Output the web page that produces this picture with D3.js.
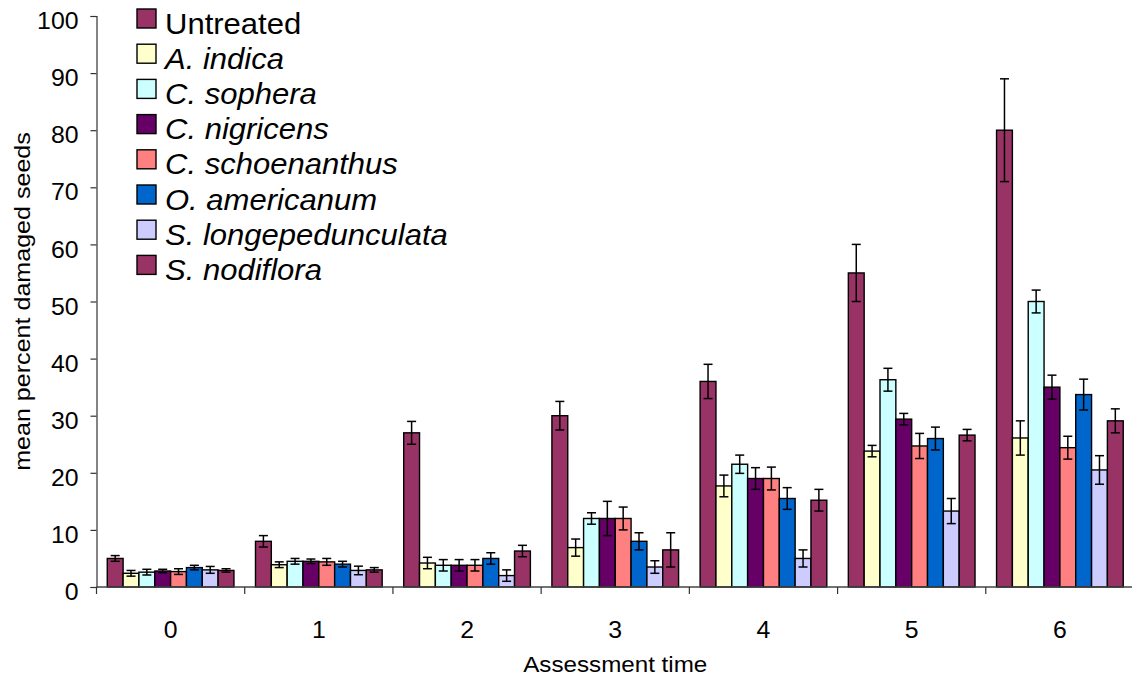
<!DOCTYPE html>
<html>
<head>
<meta charset="utf-8">
<script src="https://cdn.jsdelivr.net/npm/d3@7"></script>
<style>
  html, body { margin: 0; padding: 0; background: #fff; }
  svg { display: block; font-family: "Liberation Sans", Arial, sans-serif; }
</style>
</head>
<body>
<svg id="chart" width="1132" height="677"></svg>
<script>
// Assessment times (x categories)
const times = ["0", "1", "2", "3", "4", "5", "6"];

// Treatments, in legend / bar order
const treatments = ["Untreated", "A. indica", "C. sophera", "C. nigricens",
  "C. schoenanthus", "O. americanum", "S. longepedunculata", "S. nodiflora"];
const italicNames = [false, true, true, true, true, true, true, true];

// Mean percent damaged seeds per treatment, one value per assessment time
const untreated      = [5.0, 8.0, 27.0, 30.0, 36.0, 55.0, 80.0];
const aIndica        = [2.4, 3.9, 4.2, 6.9, 17.7, 23.8, 26.1];
const cSophera       = [2.6, 4.5, 3.8, 12.0, 21.5, 36.3, 50.0];
const cNigricens     = [2.8, 4.5, 3.8, 12.0, 19.0, 29.4, 35.0];
const cSchoenanthus  = [2.7, 4.4, 3.8, 12.0, 19.0, 24.7, 24.4];
const oAmericanum    = [3.4, 4.0, 5.0, 8.0, 15.5, 26.0, 33.7];
const sLongeped      = [3.0, 2.9, 2.0, 3.5, 5.0, 13.3, 20.5];
const sNodiflora     = [2.9, 3.0, 6.3, 6.5, 15.2, 26.6, 29.1];

// Error bar half-widths (standard errors)
const untreatedErr     = [0.5, 1.0, 2.0, 2.5, 3.0, 5.0, 9.0];
const aIndicaErr       = [0.5, 0.5, 1.0, 1.5, 1.9, 1.0, 3.0];
const cSopheraErr      = [0.5, 0.5, 1.0, 1.0, 1.6, 2.0, 2.0];
const cNigricensErr    = [0.3, 0.4, 1.0, 3.0, 1.9, 1.0, 2.1];
const cSchoenanthusErr = [0.5, 0.6, 1.0, 2.0, 2.0, 2.2, 2.0];
const oAmericanumErr   = [0.4, 0.5, 1.0, 1.5, 1.9, 2.0, 2.7];
const sLongepedErr     = [0.6, 0.75, 1.0, 1.1, 1.5, 2.2, 2.5];
const sNodifloraErr    = [0.3, 0.4, 1.0, 3.0, 1.9, 1.0, 2.1];

const yTicks = [0, 10, 20, 30, 40, 50, 60, 70, 80, 90, 100];

const seriesValues = [untreated, aIndica, cSophera, cNigricens, cSchoenanthus, oAmericanum, sLongeped, sNodiflora];
const seriesErrors = [untreatedErr, aIndicaErr, cSopheraErr, cNigricensErr, cSchoenanthusErr, oAmericanumErr, sLongepedErr, sNodifloraErr];
const colors = ["#993366", "#FFFFCC", "#CCFFFF", "#660066", "#FF8080", "#0066CC", "#CCCCFF", "#993366"];

const svg = d3.select("#chart");
const plotLeft = 96.5, plotRight = 1134, plotTop = 16, plotBottom = 587;
const sx = 1.08; // horizontal glyph stretch of the axis labels

const x0 = d3.scaleBand().domain(times).range([plotLeft, plotRight]).padding(0);
const x1 = d3.scaleBand().domain(d3.range(treatments.length))
  .range([0, x0.bandwidth()]).paddingInner(0).paddingOuter(0.68);
const y = d3.scaleLinear().domain([0, 100]).range([plotBottom, plotTop]);

// bars
const rows = [];
seriesValues.forEach((vals, s) => vals.forEach((v, i) => rows.push({ s, t: times[i], v, e: seriesErrors[s][i] })));

const plot = svg.append("g");
plot.selectAll("rect.bar").data(rows).join("rect")
  .attr("class", "bar")
  .attr("x", d => x0(d.t) + x1(d.s))
  .attr("y", d => y(d.v))
  .attr("width", x1.bandwidth())
  .attr("height", d => y(0) - y(d.v))
  .attr("fill", d => colors[d.s])
  .attr("stroke", "#000")
  .attr("stroke-width", 1.4);

// error bars
const eb = plot.selectAll("g.err").data(rows).join("g").attr("class", "err")
  .attr("stroke", "#000").attr("stroke-width", 1.5);
const cx = d => x0(d.t) + x1(d.s) + x1.bandwidth() / 2;
eb.append("line").attr("x1", cx).attr("x2", cx).attr("y1", d => y(d.v - d.e)).attr("y2", d => y(d.v + d.e));
eb.append("line").attr("x1", d => cx(d) - 4.5).attr("x2", d => cx(d) + 4.5).attr("y1", d => y(d.v + d.e)).attr("y2", d => y(d.v + d.e));
eb.append("line").attr("x1", d => cx(d) - 4.5).attr("x2", d => cx(d) + 4.5).attr("y1", d => y(d.v - d.e)).attr("y2", d => y(d.v - d.e));

// y axis
const yAxis = svg.append("g").attr("transform", `translate(${plotLeft},0)`)
  .call(d3.axisLeft(y).tickValues(yTicks).tickSize(6).tickPadding(12));
yAxis.select(".domain").attr("stroke", "#333").attr("stroke-width", 1.2);
yAxis.selectAll(".tick line").attr("stroke", "#333").attr("stroke-width", 1.2);
yAxis.selectAll(".tick text")
  .attr("font-size", 23).attr("font-family", "Liberation Sans, Arial, sans-serif")
  .attr("fill", "#000").attr("dy", "0.55em")
  .attr("x", -18 / sx).attr("transform", `scale(${sx},1)`);

// x axis: ticks between groups, labels centred on groups
const xAxisG = svg.append("g");
xAxisG.append("line").attr("x1", plotLeft).attr("x2", plotRight).attr("y1", plotBottom).attr("y2", plotBottom)
  .attr("stroke", "#444").attr("stroke-width", 1.5);
xAxisG.selectAll("line.tk").data(times).join("line").attr("class", "tk")
  .attr("x1", d => x0(d)).attr("x2", d => x0(d)).attr("y1", plotBottom).attr("y2", plotBottom + 7)
  .attr("stroke", "#333").attr("stroke-width", 1.2);
xAxisG.selectAll("text").data(times).join("text")
  .attr("transform", d => `translate(${x0(d) + x0.bandwidth() / 2},638) scale(${sx},1)`)
  .attr("text-anchor", "middle").attr("font-size", 23).text(d => d);

// axis titles
svg.append("text")
  .attr("transform", `translate(${x0("3") + x0.bandwidth() / 2},672) scale(1.1,1)`)
  .attr("text-anchor", "middle").attr("font-size", 22).text("Assessment time");
svg.append("text")
  .attr("transform", `translate(30,${(plotTop + plotBottom) / 2 + 0}) rotate(-90) scale(1.14,1)`)
  .attr("text-anchor", "middle").attr("font-size", 22).text("mean percent damaged seeds");

// legend
const legend = svg.append("g").attr("transform", "translate(137,9)");
const li = legend.selectAll("g").data(treatments).join("g")
  .attr("transform", (d, i) => `translate(0,${i * 35.2})`);
li.append("rect").attr("width", 19).attr("height", 19)
  .attr("fill", (d, i) => colors[i]).attr("stroke", "#000").attr("stroke-width", 1.4);
li.append("text")
  .attr("transform", `translate(28,24.5) scale(1.07,1)`)
  .attr("font-size", 29)
  .attr("font-style", (d, i) => italicNames[i] ? "italic" : "normal")
  .text(d => d);
</script>
</body>
</html>
